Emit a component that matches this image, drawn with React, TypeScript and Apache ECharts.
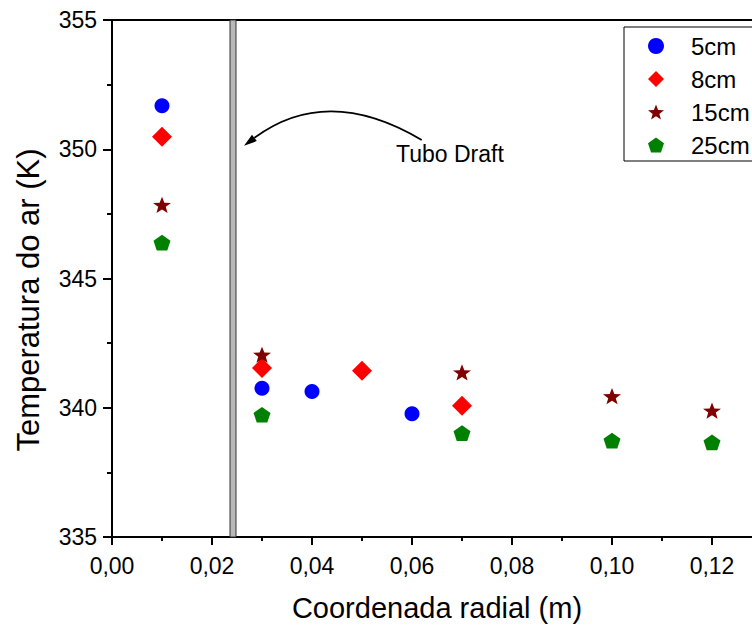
import React, { useEffect, useRef } from "react";
import * as echarts from "echarts";

const seriesNames = ["5cm", "8cm", "15cm", "25cm"];
const colors = ["#0000ff", "#ff0000", "#800000", "#008000"];

const data5cm: [number, number][] = [
  [0.01, 351.68],
  [0.03, 340.75],
  [0.04, 340.63],
  [0.06, 339.77],
];
const data8cm: [number, number][] = [
  [0.01, 350.48],
  [0.03, 341.54],
  [0.05, 341.43],
  [0.07, 340.08],
];
const data15cm: [number, number][] = [
  [0.01, 347.85],
  [0.03, 342.05],
  [0.07, 341.37],
  [0.1, 340.45],
  [0.12, 339.89],
];
const data25cm: [number, number][] = [
  [0.01, 346.39],
  [0.03, 339.73],
  [0.07, 339.02],
  [0.1, 338.73],
  [0.12, 338.66],
];

const tubeX: [number, number] = [0.0236, 0.0248];
const annotationText = "Tubo Draft";
const xTitle = "Coordenada radial (m)";
const yTitle = "Temperatura do ar (K)";

const STAR =
  "path://M50 0 L62.3 33 L97.55 34.55 L69.9 56.5 L79.39 90.45 L50 71 L20.61 90.45 L30.1 56.5 L2.45 34.55 L37.7 33 Z";
const PENTAGON = "path://M50 0 L97.55 34.55 L79.39 90.45 L20.61 90.45 L2.45 34.55 Z";

const FONT = "'Liberation Sans', Arial, sans-serif";

export default function App() {
  const ref = useRef<HTMLDivElement>(null);

  useEffect(() => {
    if (!ref.current) return;
    const chart = echarts.init(ref.current, null, { renderer: "svg" });
    const allData = [data5cm, data8cm, data15cm, data25cm];
    const symbols = ["circle", "diamond", STAR, PENTAGON];
    const sizes: any[] = [15, 20, [18, 17], [17, 16.5]];

    const option: any = {
      animation: false,
      backgroundColor: "#ffffff",
      textStyle: { fontFamily: FONT },
      grid: {
        left: 112,
        top: 20,
        width: 650,
        height: 517,
        containLabel: false,
        outerBoundsMode: "none",
      },
      legend: {
        data: seriesNames,
        orient: "vertical",
        left: 624,
        top: 27,
        padding: [7, 40, 4, 24],
        itemWidth: 16,
        itemHeight: 16,
        itemGap: 9,
        borderColor: "#000",
        borderWidth: 1,
        textStyle: {
          fontSize: 24,
          color: "#000",
          fontFamily: FONT,
          lineHeight: 24,
          padding: [0, 0, 0, 22],
        },
      },
      xAxis: [
        {
          type: "value",
          min: 0,
          max: 0.13,
          interval: 0.02,
          name: xTitle,
          nameLocation: "middle",
          nameGap: 56,
          nameTextStyle: { fontSize: 29, color: "#000", fontFamily: FONT },
          axisLine: { show: true, lineStyle: { color: "#000", width: 2 } },
          axisTick: { show: true, inside: false, length: 8, lineStyle: { color: "#000", width: 2 } },
          minorTick: { show: true, splitNumber: 2, length: 4, lineStyle: { color: "#000", width: 2 } },
          splitLine: { show: false },
          axisLabel: {
            fontSize: 23,
            color: "#000",
            margin: 17,
            showMaxLabel: false,
            formatter: (v: number) => v.toFixed(2).replace(".", ","),
          },
        },
        {
          type: "value",
          position: "top",
          min: 0,
          max: 0.13,
          axisLine: { show: true, onZero: false, lineStyle: { color: "#000", width: 2 } },
          axisTick: { show: false },
          axisLabel: { show: false },
          splitLine: { show: false },
        },
      ],
      yAxis: {
        type: "value",
        min: 335,
        max: 355,
        interval: 5,
        axisLine: { show: true, lineStyle: { color: "#000", width: 2 } },
        axisTick: { show: true, inside: false, length: 9, lineStyle: { color: "#000", width: 2 } },
        minorTick: { show: true, splitNumber: 2, length: 5, lineStyle: { color: "#000", width: 2 } },
        splitLine: { show: false },
        axisLabel: { fontSize: 23, color: "#000", margin: 15 },
      },
      series: [
        ...seriesNames.map((name, i) => ({
          name,
          type: "scatter",
          data: allData[i],
          symbol: symbols[i],
          symbolSize: sizes[i],
          symbolKeepAspect: true,
          itemStyle: { color: colors[i], opacity: 1 },
          z: 5,
        })),
        {
          name: "tube",
          type: "scatter",
          data: [],
          silent: true,
          markArea: {
            silent: true,
            itemStyle: { color: "#b8b8b8", borderColor: "#333333", borderWidth: 1 },
            data: [[{ xAxis: tubeX[0], yAxis: 335 }, { xAxis: tubeX[1], yAxis: 355 }]],
          },
        },
      ],
      graphic: [
        {
          type: "text",
          x: 28,
          y: 300,
          rotation: Math.PI / 2,
          style: {
            text: yTitle,
            fontSize: 31,
            fontFamily: FONT,
            fill: "#000",
            align: "center",
            verticalAlign: "middle",
          },
        },
        {
          type: "bezierCurve",
          shape: { x1: 421.7, y1: 140, cpx1: 327.2, cpy1: 83.8, x2: 254.4, y2: 137.9 },
          style: { stroke: "#000", lineWidth: 1.8, fill: null },
        },
        {
          type: "polygon",
          shape: {
            points: [
              [244, 145.7],
              [256.8, 141.1],
              [252.0, 134.7],
            ],
          },
          style: { fill: "#000" },
        },
        {
          type: "text",
          x: 396,
          y: 154,
          style: {
            text: annotationText,
            fontSize: 23,
            fontFamily: FONT,
            fill: "#000",
            verticalAlign: "middle",
            align: "left",
          },
        },
      ],
    };
    chart.setOption(option);
    return () => chart.dispose();
  }, []);

  return (
    <div
      ref={ref}
      style={{ position: "fixed", left: 0, top: 0, width: 752, height: 627, background: "#fff" }}
    />
  );
}
